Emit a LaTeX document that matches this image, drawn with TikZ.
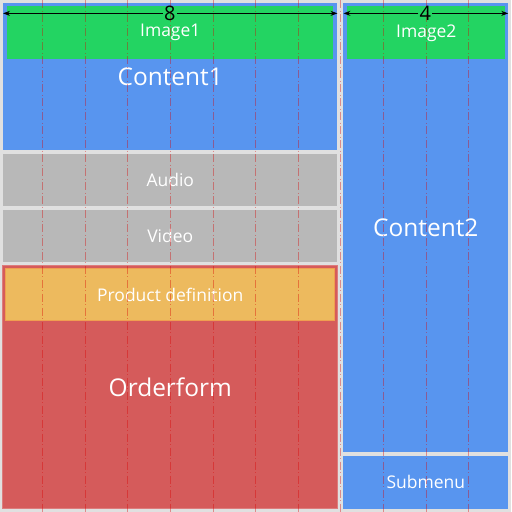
\documentclass[tikz,border=0pt]{standalone}
\usepackage{fontspec}
\setmainfont{Open Sans}
\usetikzlibrary{arrows.meta}
\definecolor{bgray}{HTML}{E0E0E0}
\definecolor{cblue}{HTML}{5895EF}
\definecolor{cgreen}{HTML}{23D462}
\definecolor{cgray}{HTML}{B8B8B8}
\definecolor{cred}{HTML}{D55B5B}
\definecolor{corange}{HTML}{EDBA5E}
\tikzset{
  box/.style={anchor=north west, inner sep=0pt, outer sep=0pt, text=white, font=\fontsize{17.5}{20}\selectfont},
  bigbox/.style={box, font=\fontsize{24.5}{28}\selectfont},
  gridline/.style={red!85!black, opacity=0.38, dash pattern=on 8pt off 2.5pt on 1pt off 2.5pt, line width=0.8pt},
  dim/.style={-{Stealth[length=7pt,width=5pt]}, line width=0.8pt},
}
\begin{document}
\begin{tikzpicture}[x=1pt,y=-1pt]
    \fill[bgray] (0,0) rectangle (512,512);
    % left column
    \node[bigbox, fill=cblue, minimum width=335pt, minimum height=147pt] (content1) at (3,3) {Content1};
    \node[box, fill=cgreen, minimum width=327pt, minimum height=53pt] (image1) at (7,6) {Image1};
    \node[box, fill=cgray, minimum width=335pt, minimum height=52pt] (audio) at (3,154) {Audio};
    \node[box, fill=cgray, minimum width=335pt, minimum height=52pt] (video) at (3,210) {Video};
    \node[bigbox, fill=cred, draw=cred!80!white, line width=1pt, minimum width=335pt, minimum height=243pt] (orderform) at (3,266) {Orderform};
    \node[box, fill=corange, draw=corange!85!red, line width=1pt, minimum width=329pt, minimum height=52pt] (product) at (6,269) {Product definition};
    % right column
    \node[bigbox, fill=cblue, minimum width=165pt, minimum height=449pt] (content2) at (344,3) {Content2};
    \node[box, fill=cgreen, minimum width=158pt, minimum height=53pt] (image2) at (348,6) {Image2};
    \node[box, fill=cblue, minimum width=165pt, minimum height=53pt] (submenu) at (344,456) {Submenu};
    % grid
    \foreach \i in {1,...,11}
        \draw[gridline] ({\i*512/12},0)--({\i*512/12},512);
    % dimensions
    \coordinate (l1) at (3,13);
    \coordinate (r1) at (338,13);
    \coordinate (l2) at (344,13);
    \coordinate (r2) at (509,13);
    \node[inner sep=1pt, font=\fontsize{20}{20}\selectfont] (w8) at (170,13) {8};
    \node[inner sep=1pt, font=\fontsize{20}{20}\selectfont] (w4) at (426,13) {4};
    \draw[dim] (w8)--(l1);
    \draw[dim] (w8)--(r1);
    \draw[dim] (w4)--(l2);
    \draw[dim] (w4)--(r2);
\end{tikzpicture}
\end{document}
